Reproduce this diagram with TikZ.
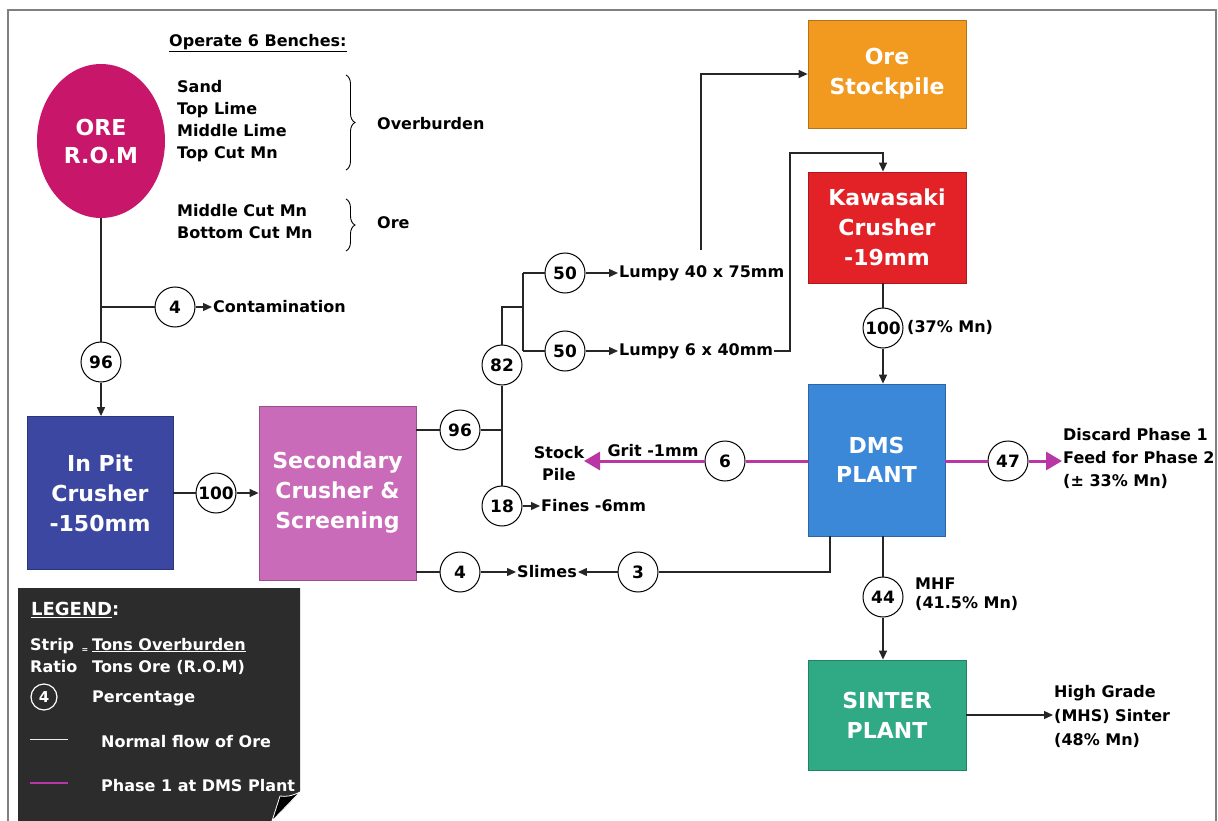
\documentclass[tikz,border=0pt]{standalone}
\usepackage{fontspec}
\setmainfont{DejaVu Sans}
\usetikzlibrary{arrows.meta,decorations.pathreplacing,shapes.geometric}
\definecolor{romc}{HTML}{C8176B}
\definecolor{inpitc}{HTML}{3B47A0}
\definecolor{secc}{HTML}{C96BB9}
\definecolor{orec}{HTML}{F29A1F}
\definecolor{kawc}{HTML}{E32227}
\definecolor{dmsc}{HTML}{3C88D8}
\definecolor{sintc}{HTML}{2FAA84}
\definecolor{phc}{RGB}{185,55,165}
\definecolor{legbg}{HTML}{2C2C2C}
\begin{document}
\begin{tikzpicture}[x=1pt,y=-1pt,
 lbl/.style={font=\fontsize{16}{22}\selectfont\bfseries, inner sep=1pt, anchor=west, align=left},
 pct/.style={circle, draw=black, line width=1pt, fill=white, minimum size=40pt, inner sep=0pt, font=\fontsize{17}{18}\selectfont\bfseries},
 proc/.style={draw=#1!75!black, line width=0.8pt, fill=#1, text=white, align=center, font=\fontsize{22}{30}\selectfont\bfseries, inner sep=0pt},
 flow/.style={line width=1.3pt, draw=black!85},
 arr/.style={flow, -{Triangle[length=9pt,width=8pt]}},
 ph/.style={line width=3pt, draw=phc},
 pharr/.style={ph, -{Triangle[length=16pt,width=18pt]}},
 legtxt/.style={lbl, text=white},
]
\useasboundingbox (0,0) rectangle (1218,821);
\fill[white] (0,0) rectangle (1218,821);
\draw[gray, line width=1.5pt] (8,821) -- (8,10) -- (1216,10) -- (1216,821);

% ---- ROM and benches
\node[ellipse, fill=romc, minimum width=128pt, minimum height=154pt, inner sep=0pt, text=white, align=center, font=\fontsize{22}{28}\selectfont\bfseries] (rom) at (101,141) {ORE\\R.O.M};
\node[lbl] (bench) at (168,43) {\underline{Operate 6 Benches:}};
\node[lbl] (obl) at (176,121) {Sand\\Top Lime\\Middle Lime\\Top Cut Mn};
\node[lbl] (orl) at (176,222) {Middle Cut Mn\\Bottom Cut Mn};
\draw[decorate, decoration={brace, amplitude=9pt}, line width=0.9pt] (346,75) -- (346,170);
\draw[decorate, decoration={brace, amplitude=9pt}, line width=0.9pt] (346,199) -- (346,251);
\node[lbl] (obt) at (376,124) {Overburden};
\node[lbl] (oret) at (376,223) {Ore};

% ---- left column
\node[pct] (n4a) at (175,307) {4};
\node[lbl] (contam) at (212,307) {Contamination};
\node[pct] (n96) at (101,362) {96};
\node[proc=inpitc, minimum width=146pt, minimum height=153pt] (inpit) at (100,493) {In Pit\\Crusher\\-150mm};
\node[pct] (n100) at (216,493) {100};
\node[proc=secc, minimum width=157pt, minimum height=174pt] (sec) at (337.5,493) {Secondary\\Crusher \&\\Screening};
\coordinate (j1) at (101,307);
\draw[flow] (rom.south) -- (n96.north);
\draw[flow] (j1) -- (n4a.west);
\draw[arr] (n4a.east) -- (contam.west);
\draw[arr] (n96.south) -- (n96 |- inpit.north);
\draw[flow] (inpit.east) -- (n100.west);
\draw[arr] (n100.east) -- (sec.west);

% ---- screening outputs
\node[pct] (n96b) at (460,430) {96};
\node[pct] (n82) at (502,365) {82};
\node[pct] (n18) at (502,506) {18};
\node[pct] (n50a) at (565,273) {50};
\node[pct] (n50b) at (565,351) {50};
\node[lbl] (lumpy40) at (618,273) {Lumpy 40 x 75mm};
\node[lbl] (lumpy6) at (618,351) {Lumpy 6 x 40mm};
\node[lbl] (fines) at (540,506) {Fines -6mm};
\coordinate (j2) at (502,430);
\coordinate (j3) at (502,307);
\coordinate (j4) at (523,307);
\coordinate (j5) at (523,273);
\coordinate (j6) at (523,351);
\draw[flow] (sec.east |- n96b) -- (n96b.west);
\draw[flow] (n96b.east) -- (j2);
\draw[flow] (n82.south) -- (n18.north);
\draw[flow] (n82.north) -- (j3) -- (j4);
\draw[flow] (j5) -- (j6);
\draw[flow] (j5) -- (n50a.west);
\draw[flow] (j6) -- (n50b.west);
\draw[arr] (n50a.east) -- (lumpy40.west);
\draw[arr] (n50b.east) -- (lumpy6.west);
\draw[arr] (n18.east) -- (fines.west);

% ---- right column
\node[proc=orec, minimum width=158pt, minimum height=108pt] (ore) at (887,74) {Ore\\Stockpile};
\node[proc=kawc, minimum width=158pt, minimum height=111pt] (kaw) at (887,227.5) {Kawasaki\\Crusher\\-19mm};
\node[pct] (n100b) at (883,328) {100};
\node[lbl] (mn37) at (906,327) {(37\% Mn)};
\node[proc=dmsc, minimum width=137pt, minimum height=152pt, font=\fontsize{22}{29}\selectfont\bfseries] (dms) at (876.5,460) {DMS\\PLANT};
\node[pct] (n6) at (725,461) {6};
\node[lbl, align=center, anchor=center] (stock) at (559,464) {Stock\\Pile};
\node[lbl, anchor=center] (grit) at (653,451) {Grit -1mm};
\coordinate (gend) at (584,461);
\node[pct] (n47) at (1008,461) {47};
\node[lbl, font=\fontsize{16}{23}\selectfont\bfseries] (disc) at (1062,458) {Discard Phase 1\\Feed for Phase 2\\(± 33\% Mn)};
\node[pct] (n3) at (638,572) {3};
\node[pct] (n4b) at (460,572) {4};
\node[lbl, anchor=center] (slimes) at (547,572) {Slimes};
\node[pct] (n44) at (883,597) {44};
\node[lbl, font=\fontsize{16}{19}\selectfont\bfseries] (mhf) at (914,594) {MHF\\(41.5\% Mn)};
\node[proc=sintc, minimum width=158pt, minimum height=110pt] (sinter) at (887,715) {SINTER\\PLANT};
\node[lbl, font=\fontsize{16}{24}\selectfont\bfseries] (hg) at (1053,716) {High Grade\\(MHS) Sinter\\(48\% Mn)};
\coordinate (up1) at (701,250);
\coordinate (k1) at (790,153);
\coordinate (s1) at (830,572);
\draw[arr] (up1) |- (ore.west);
\draw[arr] (lumpy6.east) -| (k1) -| (kaw.north -| n100b);
\draw[flow] (kaw.south -| n100b) -- (n100b.north);
\draw[arr] (n100b.south) -- (n100b |- dms.north);
\draw[ph] (dms.west |- n6) -- (n6.east);
\draw[pharr] (n6.west) -- (gend);
\draw[ph] (dms.east |- n47) -- (n47.west);
\draw[pharr] (n47.east) -- (disc.west |- n47);
\draw[flow] (dms.south -| s1) -- (s1) -- (n3.east);
\draw[arr] (n3.west) -- (slimes.east);
\draw[flow] (sec.east |- n4b) -- (n4b.west);
\draw[arr] (n4b.east) -- (slimes.west);
\draw[flow] (dms.south -| n44) -- (n44.north);
\draw[arr] (n44.south) -- (n44 |- sinter.north);
\draw[arr] (sinter.east) -- (sinter.east -| hg.west);

% ---- legend
\fill[legbg] (18,588) -- (300,588) -- (300,792) -- (272,821) -- (18,821) -- cycle;
\filldraw[fill=black, draw=white, line width=0.8pt] (300,792) .. controls (292,796) and (286,797) .. (280,796) -- (272,821) -- cycle;
\node[legtxt, font=\fontsize{18}{20}\selectfont\bfseries] (legt) at (30,610) {\underline{LEGEND}:};
\node[legtxt] (sr) at (29,656) {Strip\\Ratio};
\node[text=white, font=\fontsize{8}{8}\selectfont\bfseries, inner sep=0pt] (eq) at (85,651) {=};
\node[legtxt] (frac) at (91,656) {\underline{Tons Overburden}\\Tons Ore (R.O.M)};
\node[circle, draw=white, line width=1.2pt, minimum size=26pt, inner sep=0pt, text=white, font=\fontsize{15}{16}\selectfont\bfseries] (lc) at (44,697) {4};
\node[legtxt] (lpct) at (91,698) {Percentage};
\coordinate (la1) at (30,739);
\coordinate (la2) at (68,739);
\coordinate (lb1) at (30,783);
\coordinate (lb2) at (68,783);
\draw[white!85!gray, line width=1pt] (la1) -- (la2);
\draw[phc, line width=2pt] (lb1) -- (lb2);
\node[legtxt] (lnorm) at (100,742) {Normal flow of Ore};
\node[legtxt] (lph) at (100,786) {Phase 1 at DMS Plant};
\end{tikzpicture}
\end{document}
